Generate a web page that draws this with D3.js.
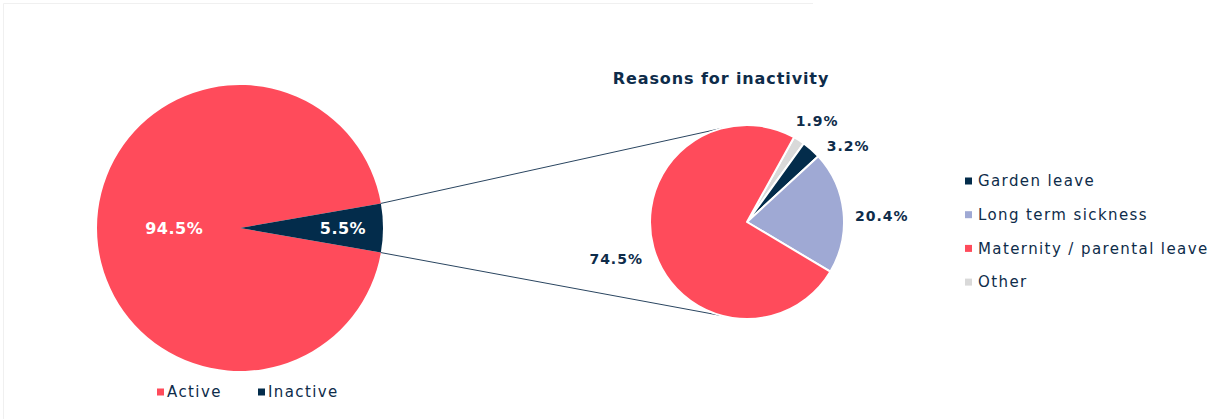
<!DOCTYPE html>
<head>
<meta charset="utf-8">
<title>Activity status</title>
<script src="https://d3js.org/d3.v7.min.js"></script>
<style>
body { margin: 0; background: #fff; }
text { font-family: "DejaVu Sans", sans-serif; }
</style>
</head>
<body>
<script>
// main pie
var mainCats = ["Active", "Inactive"];
var mainVals = [94.5, 5.5];
// second pie: reasons for inactivity
var subCats = ["Other", "Garden leave", "Long term sickness", "Maternity / parental leave"];
var subVals = [1.9, 3.2, 20.4, 74.5];
var legendOrder = ["Garden leave", "Long term sickness", "Maternity / parental leave", "Other"];

var colors = {
  "Active": "#ff4b5b", "Inactive": "#032c4b",
  "Garden leave": "#032c4b", "Long term sickness": "#9fa9d4",
  "Maternity / parental leave": "#ff4b5b", "Other": "#d9d9d9"
};
var navy = "#0e2c4a";
var width = 1216, height = 419;

var svg = d3.select("body").append("svg")
  .attr("width", width)
  .attr("height", height);

// faint frame
svg.append("path").attr("d", "M3.5,419 V3.5 H813")
  .attr("fill", "none").attr("stroke", "#f0f0f0").attr("stroke-width", 1);

var deg = Math.PI / 180;

// ---- big pie
var cx1 = 240, cy1 = 228, r1 = 143;
var inactiveSpan = mainVals[1] / 100 * 360;
var pie1 = d3.pie().sort(null).value(function(d) { return d; })
  .startAngle((90 + inactiveSpan / 2) * deg)
  .endAngle((90 + inactiveSpan / 2 + 360) * deg);
var arcs1 = pie1(mainVals);
var arc1 = d3.arc().innerRadius(0).outerRadius(r1);
var g1 = svg.append("g").attr("transform", "translate(" + cx1 + "," + cy1 + ")");
g1.selectAll("path").data(arcs1).enter().append("path")
  .attr("d", arc1)
  .attr("fill", function(d, i) { return colors[mainCats[i]]; });
var lab1 = d3.arc().innerRadius(r1 * 0.46).outerRadius(r1 * 0.46);
var lab1b = d3.arc().innerRadius(r1 * 0.72).outerRadius(r1 * 0.72);
g1.selectAll("text.val").data(arcs1).enter().append("text")
  .attr("class", "val")
  .attr("x", function(d, i) { return (i == 0 ? lab1 : lab1b).centroid(d)[0]; })
  .attr("y", function(d, i) { return (i == 0 ? lab1 : lab1b).centroid(d)[1]; })
  .attr("dy", "0.36em")
  .attr("text-anchor", "middle")
  .attr("fill", "#fff")
  .attr("font-weight", "bold")
  .attr("font-size", 16)
  .attr("letter-spacing", 0.5)
  .text(function(d) { return d.data.toFixed(1) + "%"; });

// ---- small pie
var cx2 = 747, cy2 = 222, r2 = 97;
var pie2 = d3.pie().sort(null).value(function(d) { return d; })
  .startAngle(29 * deg).endAngle((29 + 360) * deg);
var arcs2 = pie2(subVals);
var arc2 = d3.arc().innerRadius(0).outerRadius(r2);

// connector lines (top edge of the inactive wedge -> top of 2nd pie, bottom -> bottom)
var aTop = arcs1[1].startAngle, aBot = arcs1[1].endAngle;
var conn = [
  [[cx1 + r1 * Math.sin(aTop), cy1 - r1 * Math.cos(aTop)], [cx2 + r2 * Math.sin(-15 * deg), cy2 - r2 * Math.cos(-15 * deg)]],
  [[cx1 + r1 * Math.sin(aBot), cy1 - r1 * Math.cos(aBot)], [cx2 + r2 * Math.sin(195 * deg), cy2 - r2 * Math.cos(195 * deg)]]
];
svg.selectAll("line.conn").data(conn).enter().append("line")
  .attr("class", "conn")
  .attr("x1", function(d) { return d[0][0]; })
  .attr("y1", function(d) { return d[0][1]; })
  .attr("x2", function(d) { return d[1][0]; })
  .attr("y2", function(d) { return d[1][1]; })
  .attr("stroke", "#2a4560").attr("stroke-width", 1);

var g2 = svg.append("g").attr("transform", "translate(" + cx2 + "," + cy2 + ")");
g2.selectAll("path").data(arcs2).enter().append("path")
  .attr("d", arc2)
  .attr("fill", function(d, i) { return colors[subCats[i]]; })
  .attr("stroke", "#fff").attr("stroke-width", 2).attr("stroke-linejoin", "round");

// outside labels
var labR = r2 + 16;
g2.selectAll("text.val").data(arcs2).enter().append("text")
  .attr("class", "val")
  .attr("font-weight", "bold")
  .attr("font-size", 14)
  .attr("letter-spacing", 1)
  .attr("fill", navy)
  .attr("text-anchor", "middle")
  .attr("dy", "0.36em")
  .text(function(d) { return d.data.toFixed(1) + "%"; })
  .each(function(d) {
    var m = (d.startAngle + d.endAngle) / 2;
    if (d.index == 1) m += 9 * deg; // small slice label nudged clear of its neighbour
    var w = this.getComputedTextLength();
    var x = labR * Math.sin(m) + Math.sin(m) * w * 0.42;
    var y = -labR * Math.cos(m) - Math.cos(m) * 7 + (Math.sin(m) > 0.9 || Math.sin(m) < -0.9 ? 6 : 0);
    d3.select(this).attr("x", x).attr("y", y);
  });

svg.append("text")
  .attr("x", 721).attr("y", 84)
  .attr("text-anchor", "middle")
  .attr("font-weight", "bold")
  .attr("font-size", 16)
  .attr("letter-spacing", 0.9)
  .attr("fill", navy)
  .text("Reasons for inactivity");

// ---- right legend
var lg = svg.append("g").selectAll("g").data(legendOrder).enter().append("g")
  .attr("transform", function(d, i) { return "translate(965," + (181 + i * 33.7) + ")"; });
lg.append("rect").attr("x", 0).attr("y", -3.5).attr("width", 7).attr("height", 7)
  .attr("fill", function(d) { return colors[d]; });
lg.append("text").attr("x", 13).attr("dy", "0.35em")
  .attr("font-size", 15).attr("letter-spacing", 1.4).attr("fill", navy)
  .text(function(d) { return d; });

// ---- bottom legend
var bx = [157, 258];
var bl = svg.append("g").selectAll("g").data(mainCats).enter().append("g")
  .attr("transform", function(d, i) { return "translate(" + bx[i] + ",392)"; });
bl.append("rect").attr("x", 0).attr("y", -3.5).attr("width", 7).attr("height", 7)
  .attr("fill", function(d) { return colors[d]; });
bl.append("text").attr("x", 10).attr("dy", "0.35em")
  .attr("font-size", 15).attr("letter-spacing", 1.4).attr("fill", navy)
  .text(function(d) { return d; });
</script>
</body>
